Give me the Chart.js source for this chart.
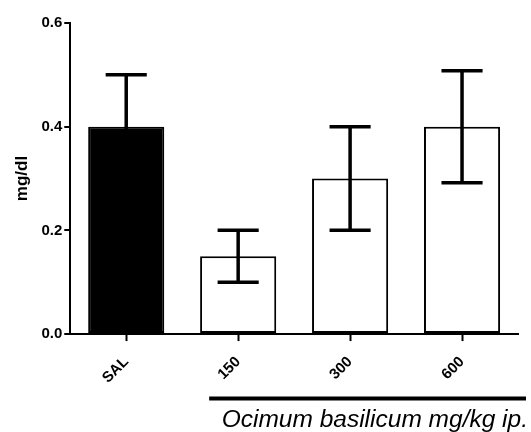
<!DOCTYPE html>
<html>
<head>
<meta charset="utf-8">
<script src="https://cdn.jsdelivr.net/npm/chart.js@4"></script>
<style>
  html, body { margin: 0; padding: 0; background: #fff; }
  #wrap { width: 531px; height: 432px; }
</style>
</head>
<body>
<div id="wrap"><canvas id="myChart" width="531" height="432"></canvas></div>
<script>
'use strict';
// data
const groups = ['SAL', '150', '300', '600'];
const means = [0.40, 0.15, 0.30, 0.40];
const sem = [0.10, 0.05, 0.10, 0.108];
const fills = ['#000000', '#ffffff', '#ffffff', '#ffffff'];
const yTicks = [0.0, 0.2, 0.4, 0.6];
const yTitle = 'mg/dl';
const doseTitle = 'Ocimum basilicum mg/kg ip.';

const FONT = "'Liberation Sans', Arial, sans-serif";

// error bars (mean +/- sem) drawn through the y scale
const errorBars = {
  id: 'errorBars',
  afterDatasetsDraw(chart) {
    const ctx = chart.ctx;
    const y = chart.scales.y;
    const meta = chart.getDatasetMeta(0);
    ctx.save();
    ctx.strokeStyle = '#000';
    ctx.lineWidth = 3.5;
    ctx.lineCap = 'butt';
    meta.data.forEach(function (bar, i) {
      const yTop = y.getPixelForValue(means[i] + sem[i]);
      const yBot = y.getPixelForValue(means[i] - sem[i]);
      const cap = bar.width * 0.27;
      ctx.beginPath();
      ctx.moveTo(bar.x, yTop);
      ctx.lineTo(bar.x, yBot);
      ctx.moveTo(bar.x - cap, yTop);
      ctx.lineTo(bar.x + cap, yTop);
      ctx.moveTo(bar.x - cap, yBot);
      ctx.lineTo(bar.x + cap, yBot);
      ctx.stroke();
    });
    ctx.restore();
  }
};

// small tick marks under each group + line and caption under the dose groups
const doseLabel = {
  id: 'doseLabel',
  afterDraw(chart) {
    const ctx = chart.ctx;
    const x = chart.scales.x;
    const yAxis = chart.chartArea.bottom;
    ctx.save();
    ctx.strokeStyle = '#000';
    ctx.lineWidth = 2;
    groups.forEach(function (g, i) {
      const px = Math.round(x.getPixelForValue(i)) + 0.5;
      ctx.beginPath();
      ctx.moveTo(px, yAxis);
      ctx.lineTo(px, yAxis + 7);
      ctx.stroke();
    });
    const left = x.getPixelForValue(1) - 29;
    const right = chart.width - 5;
    ctx.lineWidth = 4;
    ctx.beginPath();
    ctx.moveTo(left, 398.5);
    ctx.lineTo(right, 398.5);
    ctx.stroke();
    ctx.fillStyle = '#000';
    ctx.font = 'italic 24.5px ' + FONT;
    ctx.textAlign = 'right';
    ctx.textBaseline = 'alphabetic';
    ctx.fillText(doseTitle, right + 2, 427);
    ctx.restore();
  }
};

const ctx = document.getElementById('myChart').getContext('2d');
new Chart(ctx, {
  type: 'bar',
  data: {
    labels: groups,
    datasets: [{
      data: means,
      backgroundColor: fills,
      borderColor: '#000',
      borderWidth: 2,
      borderSkipped: false,
      barPercentage: 0.68,
      categoryPercentage: 1
    }]
  },
  options: {
    responsive: false,
    animation: false,
    layout: { padding: { top: 23, right: 13, bottom: 34, left: 7 } },
    plugins: {
      legend: { display: false },
      tooltip: { enabled: false }
    },
    scales: {
      x: {
        grid: { display: false },
        border: { display: true, color: '#000', width: 2 },
        ticks: {
          color: '#000',
          font: { family: FONT, size: 15, weight: 'bold' },
          minRotation: 45,
          maxRotation: 45,
          padding: 11
        }
      },
      y: {
        min: 0,
        max: 0.6,
        afterBuildTicks(axis) {
          axis.ticks = yTicks.map(function (v) { return { value: v }; });
        },
        grid: { drawOnChartArea: false, drawTicks: true, tickLength: 6, color: '#000', lineWidth: 2 },
        border: { color: '#000', width: 2 },
        ticks: {
          color: '#000',
          font: { family: FONT, size: 15, weight: 'bold' },
          padding: 2,
          callback: function (v) { return Number(v).toFixed(1); }
        },
        title: {
          display: true,
          text: yTitle,
          color: '#000',
          font: { family: FONT, size: 17, weight: 'bold' },
          padding: { top: 5, bottom: 7 }
        }
      }
    }
  },
  plugins: [errorBars, doseLabel]
});
</script>
</body>
</html>
